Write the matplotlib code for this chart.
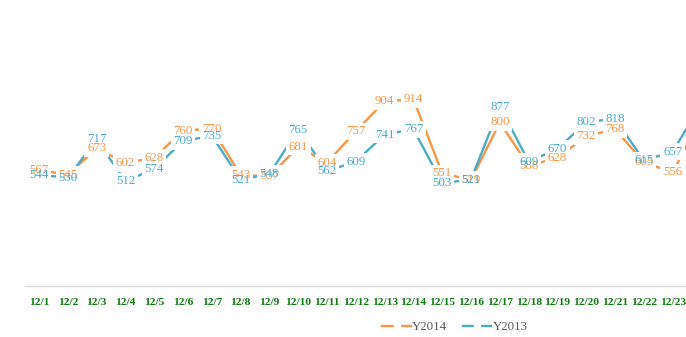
import matplotlib
matplotlib.use("Agg")
import matplotlib.pyplot as plt
from matplotlib.lines import Line2D

dates = ["12/1", "12/2", "12/3", "12/4", "12/5", "12/6", "12/7", "12/8",
         "12/9", "12/10", "12/11", "12/12", "12/13", "12/14", "12/15", "12/16",
         "12/17", "12/18", "12/19", "12/20", "12/21", "12/22", "12/23", "12/24"]
y2014 = [567, 545, 673, 602, 628, 760, 770, 543, 537, 681, 604, 757, 904, 914,
         551, 519, 800, 588, 628, 732, 768, 605, 556, 830]
y2013 = [544, 530, 717, 512, 574, 709, 735, 521, 548, 765, 562, 609, 741, 767,
         503, 521, 877, 609, 670, 802, 818, 615, 657, 890]

ORANGE = "#F79646"
BLUE = "#4BACC6"
LABEL_FONT = "Liberation Serif"

fig = plt.figure(figsize=(6.86, 3.37), dpi=100)
ax = fig.add_axes([0.0359, 0.1513, 1.0076, 0.6065])

x = list(range(len(dates)))
ax.plot(x, y2014, color=ORANGE, lw=1.7, zorder=2, solid_capstyle="butt")
ax.plot(x, y2013, color=BLUE, lw=1.7, zorder=2, solid_capstyle="butt")

# white patches behind every value label, then the label texts on top
for series, col in ((y2014, ORANGE), (y2013, BLUE)):
    for xi, v in zip(x, series):
        ax.text(xi, v, str(v), ha="center", va="center", fontsize=9.3,
                family=LABEL_FONT, color=(0, 0, 0, 0), zorder=3,
                bbox=dict(boxstyle="square,pad=0.2", fc="white", ec="none"))
for series, col in ((y2014, ORANGE), (y2013, BLUE)):
    for xi, v in zip(x, series):
        ax.text(xi, v, str(v), ha="center", va="center", fontsize=9.3,
                family=LABEL_FONT, color=col, zorder=4)

ax.set_xlim(-0.5, len(dates) - 0.5)
ax.set_ylim(0, 1000)
ax.set_xticks(x)
ax.set_xticklabels(dates, family=LABEL_FONT, fontweight="bold", fontsize=8.2,
                   color="#0F7A0F")
ax.tick_params(axis="x", length=0, pad=8.5)
ax.set_yticks([])
for s in ("top", "right", "left"):
    ax.spines[s].set_visible(False)
ax.spines["bottom"].set_color("#D9D9D9")
ax.spines["bottom"].set_linewidth(1.0)

handles = [
    Line2D([], [], color=ORANGE, lw=1.7, marker="s", markersize=4,
           markerfacecolor="white", markeredgecolor="white"),
    Line2D([], [], color=BLUE, lw=1.7, marker="s", markersize=4,
           markerfacecolor="white", markeredgecolor="white"),
]
fig.legend(handles, ["Y2014", "Y2013"], loc="center", ncol=2,
           bbox_to_anchor=(455 / 686, 1 - 327 / 337), frameon=False,
           prop={"family": LABEL_FONT, "size": 9.3}, labelcolor="#595959",
           handlelength=2.2, handletextpad=0.1, columnspacing=1.2)

fig.savefig("out.png", dpi=100)
